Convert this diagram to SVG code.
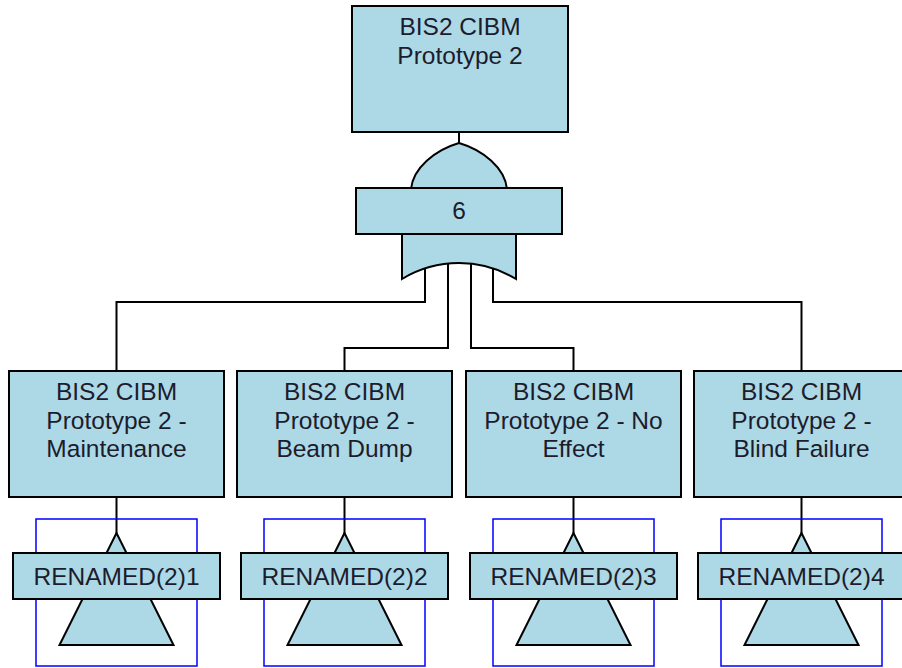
<svg xmlns="http://www.w3.org/2000/svg" width="902" height="668" viewBox="0 0 902 668">
<style>
.box{fill:#ADD8E6;stroke:#000;stroke-width:2}
.gate{fill:#ADD8E6;stroke:#000;stroke-width:2;stroke-linejoin:miter}
.conn{fill:none;stroke:#000;stroke-width:2}
.frame{fill:none;stroke:#0000FF;stroke-width:1.5}
.t{font-family:"Liberation Sans",Arial,sans-serif;font-size:24.5px;fill:#1c1c2c;text-anchor:middle}
</style>
<rect width="902" height="668" fill="#fff"/>
<g id="connectors">
<path class="conn" d="M459,132V145"/>
<path class="conn" d="M425,266V302H116.5V371"/>
<path class="conn" d="M448,263V348H344.5V371"/>
<path class="conn" d="M471,263V348H573.5V371"/>
<path class="conn" d="M493,266V302H801.5V371"/>
<path class="conn" d="M116.5,497V534"/>
<path class="conn" d="M344.5,497V534"/>
<path class="conn" d="M573.5,497V534"/>
<path class="conn" d="M801.5,497V534"/>
</g>
<g id="top">
<rect class="box" x="352" y="6" width="216" height="126"/>
<text class="t" x="460" y="35">BIS2 CIBM</text>
<text class="t" x="460" y="64">Prototype 2</text>
</g>
<g id="gate6">
<path class="gate" d="M411,189C413,168 435,150 459,143C483,150 505,168 507,189Z"/>
<path class="gate" d="M402,233V279A110,110 0 0 1 516,279V233Z"/>
<rect class="box" x="356" y="188" width="206" height="46"/>
<text class="t" x="459" y="219">6</text>
</g>
<g id="child1">
<rect class="box" x="9" y="371" width="215" height="126"/>
<text class="t" x="116.5" y="400">BIS2 CIBM</text>
<text class="t" x="116.5" y="429">Prototype 2 -</text>
<text class="t" x="116.5" y="457">Maintenance</text>
</g>
<g id="child2">
<rect class="box" x="237" y="371" width="215" height="126"/>
<text class="t" x="344.5" y="400">BIS2 CIBM</text>
<text class="t" x="344.5" y="429">Prototype 2 -</text>
<text class="t" x="344.5" y="457">Beam Dump</text>
</g>
<g id="child3">
<rect class="box" x="466" y="371" width="215" height="126"/>
<text class="t" x="573.5" y="400">BIS2 CIBM</text>
<text class="t" x="573.5" y="429">Prototype 2 - No</text>
<text class="t" x="573.5" y="457">Effect</text>
</g>
<g id="child4">
<rect class="box" x="694" y="371" width="215" height="126"/>
<text class="t" x="801.5" y="400">BIS2 CIBM</text>
<text class="t" x="801.5" y="429">Prototype 2 -</text>
<text class="t" x="801.5" y="457">Blind Failure</text>
</g>
<g id="transfer1">
<rect class="frame" x="36" y="519" width="161" height="147"/>
<path class="gate" d="M116.5,533L106.5,553H126.5Z"/>
<path class="gate" d="M82.5,599H150.5L173.5,645H59.5Z"/>
<rect class="box" x="13" y="553" width="207" height="46"/>
<text class="t" x="116.5" y="585">RENAMED(2)1</text>
</g>
<g id="transfer2">
<rect class="frame" x="264" y="519" width="161" height="147"/>
<path class="gate" d="M344.5,533L334.5,553H354.5Z"/>
<path class="gate" d="M310.5,599H378.5L401.5,645H287.5Z"/>
<rect class="box" x="241" y="553" width="207" height="46"/>
<text class="t" x="344.5" y="585">RENAMED(2)2</text>
</g>
<g id="transfer3">
<rect class="frame" x="493" y="519" width="161" height="147"/>
<path class="gate" d="M573.5,533L563.5,553H583.5Z"/>
<path class="gate" d="M539.5,599H607.5L630.5,645H516.5Z"/>
<rect class="box" x="470" y="553" width="207" height="46"/>
<text class="t" x="573.5" y="585">RENAMED(2)3</text>
</g>
<g id="transfer4">
<rect class="frame" x="721" y="519" width="161" height="147"/>
<path class="gate" d="M801.5,533L791.5,553H811.5Z"/>
<path class="gate" d="M767.5,599H835.5L858.5,645H744.5Z"/>
<rect class="box" x="698" y="553" width="207" height="46"/>
<text class="t" x="801.5" y="585">RENAMED(2)4</text>
</g>
</svg>
